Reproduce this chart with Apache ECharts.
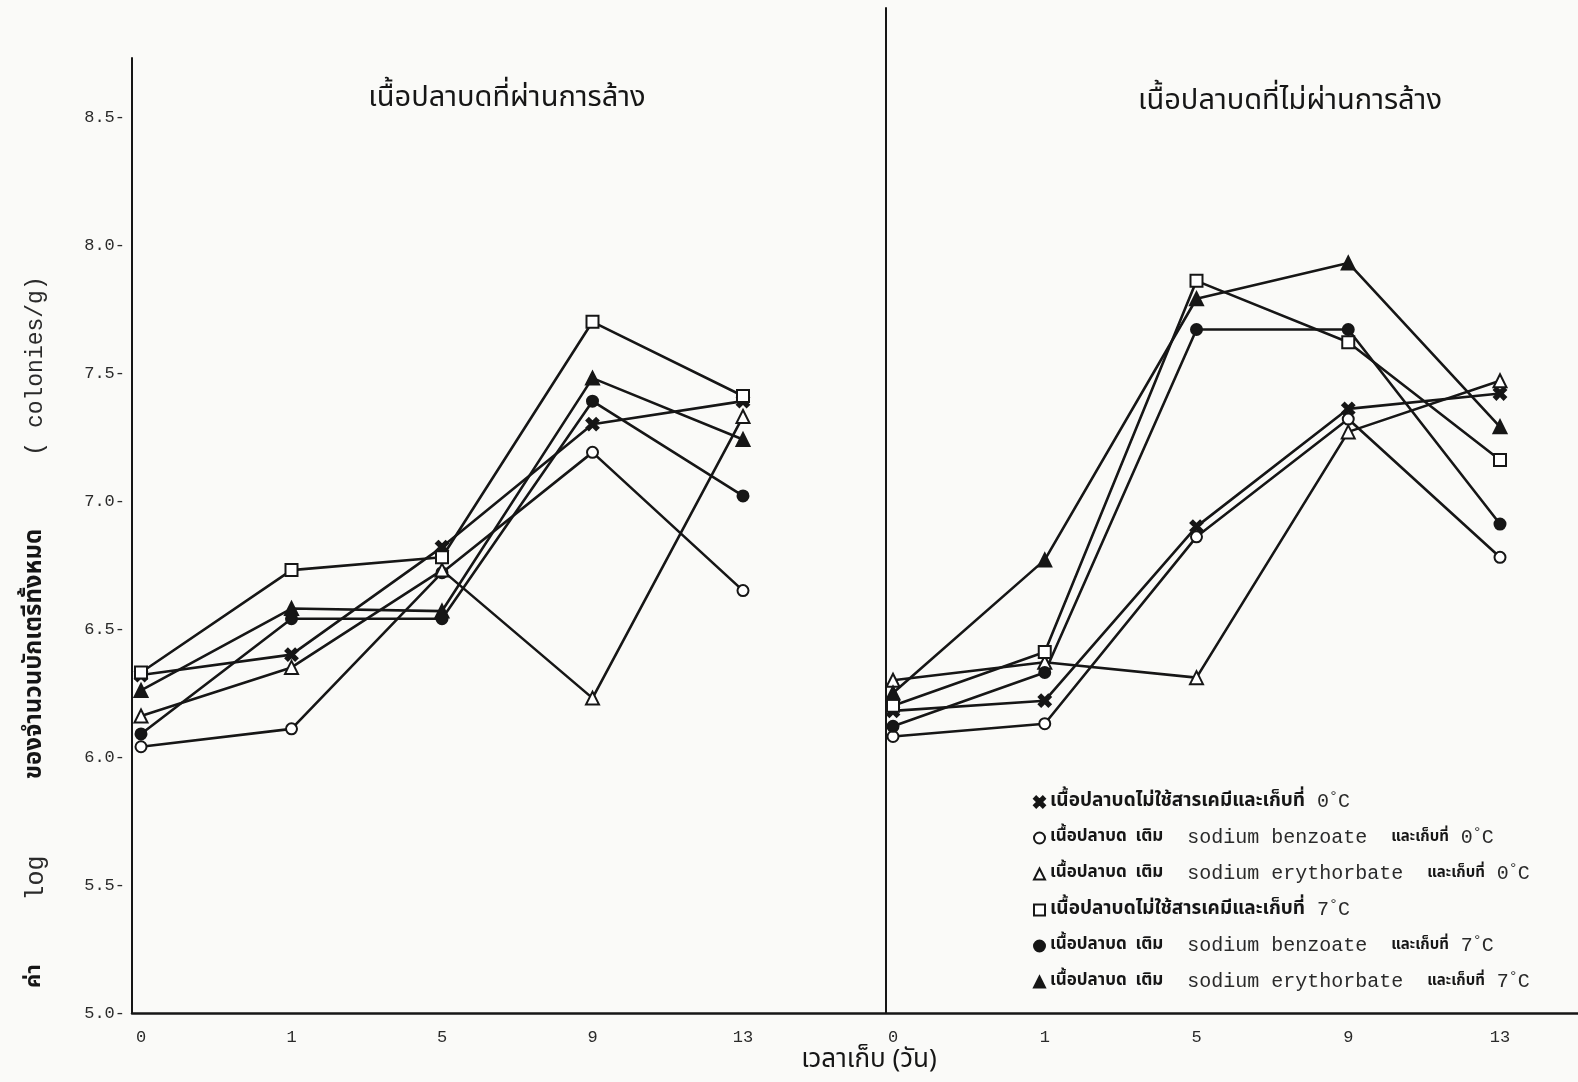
<!DOCTYPE html>
<html>
<head>
<meta charset="utf-8">
<script src="https://cdn.jsdelivr.net/npm/echarts@6/dist/echarts.min.js"></script>
<style>
  html, body { margin: 0; padding: 0; background: #fafaf8; }
  #chart { width: 1578px; height: 1082px; }
</style>
</head>
<body>
<div id="chart"></div>
<script>
// storage days (category axis, same for both panels)
const days = ['0', '1', '5', '9', '13'];
const yTicks = [5.0, 5.5, 6.0, 6.5, 7.0, 7.5, 8.0, 8.5];

// washed fish mince (left panel), log total bacteria
const washedX = [6.32, 6.40, 6.82, 7.30, 7.39];
const washedO = [6.04, 6.11, 6.72, 7.19, 6.65];
const washedTri = [6.16, 6.35, 6.73, 6.23, 7.33];
const washedSq = [6.33, 6.73, 6.78, 7.70, 7.41];
const washedDot = [6.09, 6.54, 6.54, 7.39, 7.02];
const washedFTri = [6.26, 6.58, 6.57, 7.48, 7.24];

// unwashed fish mince (right panel)
const unwashedX = [6.18, 6.22, 6.90, 7.36, 7.42];
const unwashedO = [6.08, 6.13, 6.86, 7.32, 6.78];
const unwashedTri = [6.30, 6.37, 6.31, 7.27, 7.47];
const unwashedSq = [6.20, 6.41, 7.86, 7.62, 7.16];
const unwashedDot = [6.12, 6.33, 7.67, 7.67, 6.91];
const unwashedFTri = [6.25, 6.77, 7.79, 7.93, 7.29];

const names = [
    'เนื้อปลาบดไม่ใช้สารเคมีและเก็บที่ 0 C',
    'เนื้อปลาบด เติม sodium benzoate และเก็บที่ 0 C',
    'เนื้อปลาบด เติม sodium erythorbate และเก็บที่ 0 C',
    'เนื้อปลาบดไม่ใช้สารเคมีและเก็บที่ 7 C',
    'เนื้อปลาบด เติม sodium benzoate และเก็บที่ 7 C',
    'เนื้อปลาบด เติม sodium erythorbate และเก็บที่ 7 C'
];
// same texts, marked up for the legend (thai bold, latin typewriter, raised degree)
const legendLabels = [
    '{thw|เนื้อปลาบดไม่ใช้สารเคมีและเก็บที่}{en| 0}{deg|°}{en|C}',
    '{th|เนื้อปลาบด  เติม}{en|  sodium benzoate  }{th2|และเก็บที่}{en| 0}{deg|°}{en|C}',
    '{th|เนื้อปลาบด  เติม}{en|  sodium erythorbate  }{th2|และเก็บที่}{en| 0}{deg|°}{en|C}',
    '{thw|เนื้อปลาบดไม่ใช้สารเคมีและเก็บที่}{en| 7}{deg|°}{en|C}',
    '{th|เนื้อปลาบด  เติม}{en|  sodium benzoate  }{th2|และเก็บที่}{en| 7}{deg|°}{en|C}',
    '{th|เนื้อปลาบด  เติม}{en|  sodium erythorbate  }{th2|และเก็บที่}{en| 7}{deg|°}{en|C}'
];

const crossPath = 'path://M2,0 L5,3 L8,0 L10,2 L7,5 L10,8 L8,10 L5,7 L2,10 L0,8 L3,5 L0,2 Z';
const symbols = [crossPath, 'emptyCircle', 'emptyTriangle', 'emptyRect', 'circle', 'triangle'];
const symbolSizes = [12, 11, 13, 12, 11, 13];

const washed = [washedX, washedO, washedTri, washedSq, washedDot, washedFTri];
const unwashed = [unwashedX, unwashedO, unwashedTri, unwashedSq, unwashedDot, unwashedFTri];

const THAI = "'Noto Sans Thai', 'Noto Sans', sans-serif";
const MONO = "'Liberation Mono', 'DejaVu Sans Mono', monospace";

const chartDom = document.getElementById('chart');
const chart = echarts.init(chartDom, null, { renderer: 'canvas' });

const makeSeries = (data, i, panel) => ({
    name: names[i],
    type: 'line',
    xAxisIndex: panel,
    yAxisIndex: panel,
    data: data,
    symbol: symbols[i],
    symbolSize: symbolSizes[i],
    showSymbol: true,
    animation: false,
    lineStyle: { color: '#161616', width: 2.6 },
    itemStyle: { color: '#161616', borderColor: '#161616', borderWidth: 2 },
    z: 3
});

const series = [];
washed.forEach((d, i) => series.push(makeSeries(d, i, 0)));
unwashed.forEach((d, i) => series.push(makeSeries(d, i, 1)));

const option = {
    backgroundColor: '#fafaf8',
    animation: false,
    grid: [
        { left: 141, right: 835, top: 58, bottom: 69 },
        { left: 893, right: 78, top: 8, bottom: 69 },
        { left: 132, right: 0, top: 8, bottom: 69 }
    ],
    xAxis: [
        {
            type: 'category', gridIndex: 0, data: days, boundaryGap: false,
            axisLine: { show: false }, axisTick: { show: false },
            axisLabel: { margin: 16, fontFamily: MONO, fontSize: 17, color: '#2a2a2a' }
        },
        {
            type: 'category', gridIndex: 1, data: days, boundaryGap: false,
            axisLine: { show: false }, axisTick: { show: false },
            axisLabel: { margin: 16, fontFamily: MONO, fontSize: 17, color: '#2a2a2a' }
        },
        {
            type: 'value', gridIndex: 2, min: 0, max: 1,
            axisLine: { show: true, lineStyle: { color: '#161616', width: 2.5 } },
            axisTick: { show: false }, axisLabel: { show: false }, splitLine: { show: false }
        }
    ],
    yAxis: [
        {
            type: 'value', gridIndex: 0, min: 5, max: 5 + 955 / 256, interval: 0.5, offset: 9,
            axisLine: { show: true, lineStyle: { color: '#161616', width: 2 } },
            axisTick: { show: false }, splitLine: { show: false },
            axisLabel: {
                margin: 7, fontFamily: MONO, fontSize: 17, color: '#2a2a2a',
                formatter: (v) => yTicks.some((t) => Math.abs(t - v) < 1e-6) ? v.toFixed(1) + '-' : ''
            }
        },
        {
            type: 'value', gridIndex: 1, min: 5, max: 5 + 1005 / 256, offset: 7,
            axisLine: { show: true, lineStyle: { color: '#161616', width: 2 } },
            axisTick: { show: false }, splitLine: { show: false }, axisLabel: { show: false }
        },
        {
            type: 'value', gridIndex: 2, min: 0, max: 1, show: false
        }
    ],
    legend: {
        orient: 'vertical',
        left: 1028,
        top: 785,
        itemGap: 14,
        itemWidth: 11,
        itemHeight: 11,
        selectedMode: false,
        data: names.map((n, i) => ({ name: n, icon: symbols[i] })),
        itemStyle: { color: '#161616', borderColor: '#161616' },
        formatter: (name) => legendLabels[names.indexOf(name)],
        textStyle: {
            color: '#161616',
            rich: {
                th: { fontFamily: THAI, fontWeight: 'bold', fontSize: 17, lineHeight: 24, color: '#161616' },
                thw: { fontFamily: THAI, fontWeight: 'bold', fontSize: 19, lineHeight: 24, color: '#161616' },
                th2: { fontFamily: THAI, fontWeight: 'bold', fontSize: 15, lineHeight: 24, color: '#161616' },
                en: { fontFamily: MONO, fontSize: 20, lineHeight: 24, color: '#2a2a2a' },
                deg: { fontFamily: MONO, fontSize: 15, lineHeight: 24, verticalAlign: 'top', color: '#2a2a2a' }
            }
        }
    },
    graphic: [
        {
            type: 'text', x: 507, y: 100,
            style: { text: 'เนื้อปลาบดที่ผ่านการล้าง', font: '29px ' + THAI, fill: '#161616', align: 'center', verticalAlign: 'middle' }
        },
        {
            type: 'text', x: 1290, y: 103,
            style: { text: 'เนื้อปลาบดที่ไม่ผ่านการล้าง', font: '29px ' + THAI, fill: '#161616', align: 'center', verticalAlign: 'middle' }
        },
        {
            type: 'text', x: 869, y: 1062,
            style: { text: 'เวลาเก็บ (วัน)', font: '26px ' + THAI, fill: '#161616', align: 'center', verticalAlign: 'middle' }
        },
        // y-axis name, written bottom to top in four pieces like the typed original
        {
            type: 'text', x: 36, y: 976, rotation: Math.PI / 2,
            style: { text: 'ค่า', font: 'bold 22px ' + THAI, fill: '#161616', align: 'center', verticalAlign: 'middle' }
        },
        {
            type: 'text', x: 36, y: 878, rotation: Math.PI / 2,
            style: { text: 'log', font: '25px ' + MONO, fill: '#2a2a2a', align: 'center', verticalAlign: 'middle' }
        },
        {
            type: 'text', x: 36, y: 654, rotation: Math.PI / 2,
            style: { text: 'ของจำนวนบักเตรีทั้งหมด', font: 'bold 24px ' + THAI, fill: '#161616', align: 'center', verticalAlign: 'middle' }
        },
        {
            type: 'text', x: 36, y: 366, rotation: Math.PI / 2,
            style: { text: '( colonies/g)', font: '23px ' + MONO, fill: '#2a2a2a', align: 'center', verticalAlign: 'middle' }
        }
    ],
    series: series
};

chart.setOption(option);
</script>
</body>
</html>
